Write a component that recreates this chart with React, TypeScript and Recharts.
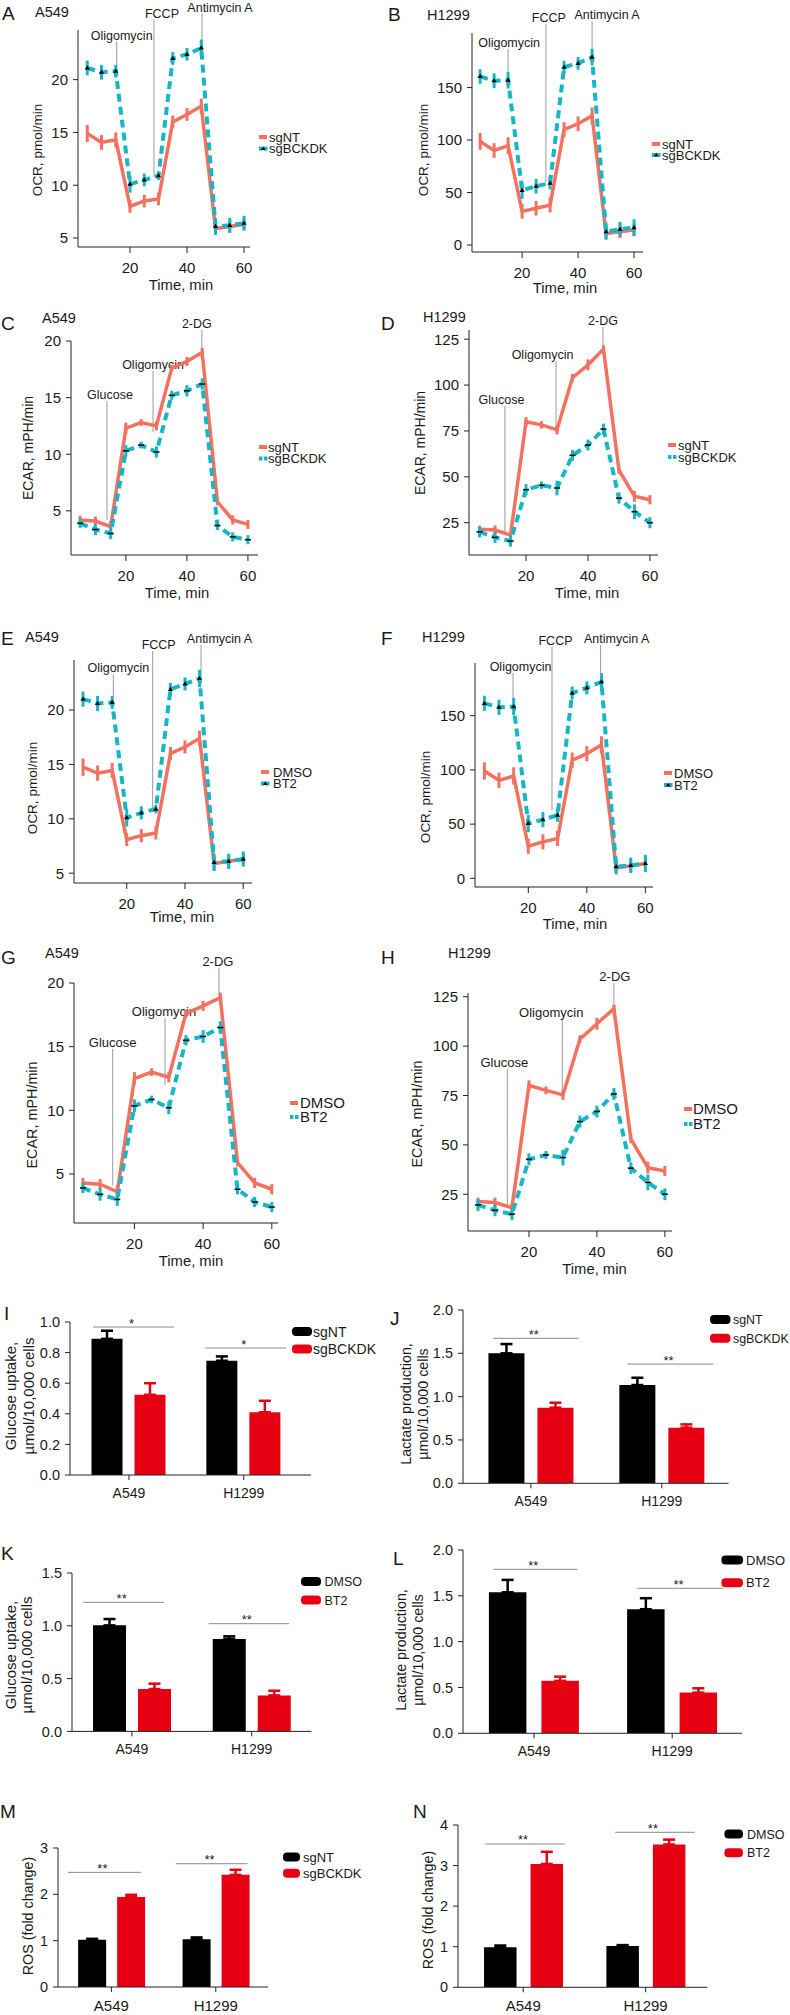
import React from "react";
import { LineChart, Line, BarChart, Bar, XAxis, YAxis, ErrorBar, ReferenceLine } from "recharts";

const FONT = "'Liberation Sans', Arial, Helvetica, sans-serif";
const SALMON = "#F4715F";
const TEAL = "#17B6C6";
const BAR_RED = "#E60012";
const AXIS = "#222";
const INK = "#1a1a1a";

// Seahorse read-out times (min)
const timePoints = [5, 10, 15, 20, 25, 30, 35, 40, 45, 50, 55, 60];
const traceTicks = [20, 40, 60];

// A: OCR A549, sgNT vs sgBCKDK
const ocrA549Ctrl = [14.9, 14.05, 14.3, 8.0, 8.5, 8.7, 16.0, 16.7, 17.5, 5.9, 6.1, 6.3];
const ocrA549CtrlErr = [0.8, 0.7, 0.7, 0.6, 0.6, 0.6, 0.6, 0.6, 0.7, 0.6, 0.6, 0.5];
const ocrA549Kd = [21.1, 20.7, 20.8, 10.1, 10.5, 10.9, 22.0, 22.4, 23.0, 6.1, 6.2, 6.4];
const ocrA549KdErr = [0.7, 0.7, 0.6, 0.8, 0.6, 0.4, 0.6, 0.6, 0.8, 0.8, 0.7, 0.7];

// B: OCR H1299
const ocrH1299Ctrl = [98.7, 90, 94.6, 32, 35, 38, 110, 115.5, 123, 11, 12.7, 14.3];
const ocrH1299CtrlErr = [8, 7, 8, 7, 7, 7, 7, 7, 8, 6, 6, 6];
const ocrH1299Kd = [160.6, 156.5, 157, 52, 56, 59, 169.5, 173, 179, 12.7, 15, 16.5];
const ocrH1299KdErr = [7, 7, 8, 8, 7, 6, 6, 6, 8, 7, 7, 8];

// C: ECAR A549
const ecarA549Ctrl = [4.17, 4.1, 3.6, 12.3, 12.8, 12.5, 17.6, 18.2, 19.0, 5.8, 4.2, 3.8];
const ecarA549CtrlErr = [0.4, 0.4, 0.5, 0.5, 0.3, 0.4, 0.3, 0.4, 0.4, 0.3, 0.4, 0.4];
const ecarA549Kd = [3.9, 3.35, 3.0, 10.3, 10.8, 10.2, 15.2, 15.6, 16.2, 3.7, 2.7, 2.45];
const ecarA549KdErr = [0.4, 0.5, 0.5, 0.5, 0.3, 0.5, 0.4, 0.5, 0.5, 0.4, 0.4, 0.4];

// D: ECAR H1299
const ecarH1299Ctrl = [21.4, 21, 18.3, 80, 78.3, 75.6, 104, 111, 119.6, 53.6, 39.4, 37.5];
const ecarH1299CtrlErr = [2, 2.5, 2, 2.5, 2, 2.5, 2, 3, 2, 2, 3, 2.5];
const ecarH1299Kd = [20, 17, 15, 43, 45.4, 43.9, 61.7, 67.3, 76, 38.4, 31, 25];
const ecarH1299KdErr = [3, 3, 3, 3, 2, 4, 3, 3, 3, 3, 4, 3];

// E: OCR A549, DMSO vs BT2
const ocrA549Dmso = [14.75, 14.2, 14.45, 8.1, 8.45, 8.7, 16.0, 16.6, 17.4, 5.9, 6.1, 6.3];
const ocrA549DmsoErr = [0.8, 0.7, 0.7, 0.6, 0.6, 0.6, 0.6, 0.6, 0.7, 0.6, 0.6, 0.5];
const ocrA549Bt2 = [21.0, 20.6, 20.7, 10.1, 10.55, 10.9, 21.9, 22.4, 22.9, 6.0, 6.1, 6.3];
const ocrA549Bt2Err = [0.7, 0.7, 0.6, 0.8, 0.6, 0.4, 0.6, 0.6, 0.8, 0.8, 0.7, 0.7];

// F: OCR H1299
const ocrH1299Dmso = [99, 90.4, 94.4, 29.6, 33.6, 36.7, 109, 115, 123, 9.8, 11.3, 13.7];
const ocrH1299DmsoErr = [8, 7, 8, 7, 7, 7, 7, 7, 8, 6, 6, 6];
const ocrH1299Bt2 = [161.4, 157.8, 158.4, 50.6, 54.2, 58.2, 170.9, 175.6, 181.2, 10.8, 12, 13.7];
const ocrH1299Bt2Err = [7, 7, 8, 8, 7, 6, 6, 6, 8, 7, 7, 8];

// G: ECAR A549
const ecarA549Dmso = [4.3, 4.2, 3.6, 12.5, 13.0, 12.6, 17.6, 18.2, 18.85, 5.9, 4.3, 3.8];
const ecarA549DmsoErr = [0.4, 0.4, 0.5, 0.5, 0.3, 0.4, 0.3, 0.4, 0.4, 0.3, 0.4, 0.4];
const ecarA549Bt2 = [3.9, 3.4, 3.0, 10.35, 10.85, 10.2, 15.5, 15.8, 16.5, 3.8, 2.8, 2.4];
const ecarA549Bt2Err = [0.4, 0.5, 0.5, 0.5, 0.3, 0.5, 0.4, 0.5, 0.5, 0.4, 0.4, 0.4];

// H: ECAR H1299
const ecarH1299Dmso = [21.3, 20.8, 18.2, 80.2, 77.6, 75.3, 103.5, 111.3, 119, 52.9, 38.5, 36.8];
const ecarH1299DmsoErr = [2, 2.5, 2, 2.5, 2, 2.5, 2, 3, 2, 2, 3, 2.5];
const ecarH1299Bt2 = [19.6, 16.9, 14.9, 42.7, 44.9, 43.6, 61.8, 66.9, 75.8, 38.2, 31, 25];
const ecarH1299Bt2Err = [3, 3, 3, 3, 2, 4, 3, 3, 3, 3, 4, 3];

// bar panels
const cellLines = ["A549", "H1299"];
const glucoseSgNT = [0.89, 0.747];
const glucoseSgNTErr = [0.053, 0.028];
const glucoseSgBCKDK = [0.524, 0.41];
const glucoseSgBCKDKErr = [0.076, 0.075];
const lactateSgNT = [1.5, 1.134];
const lactateSgNTErr = [0.107, 0.084];
const lactateSgBCKDK = [0.873, 0.642];
const lactateSgBCKDKErr = [0.057, 0.038];
const glucoseDmso = [1.004, 0.875];
const glucoseDmsoErr = [0.06, 0.025];
const glucoseBt2 = [0.401, 0.341];
const glucoseBt2Err = [0.051, 0.044];
const lactateDmso = [1.539, 1.354];
const lactateDmsoErr = [0.135, 0.12];
const lactateBt2 = [0.572, 0.444];
const lactateBt2Err = [0.046, 0.047];
const rosSgNT = [1.02, 1.03];
const rosSgNTErr = [0.02, 0.04];
const rosSgBCKDK = [1.94, 2.42];
const rosSgBCKDKErr = [0.05, 0.11];
const rosDmso = [0.985, 1.02];
const rosDmsoErr = [0.045, 0.02];
const rosBt2 = [3.04, 3.52];
const rosBt2Err = [0.3, 0.12];

const KD = ["sgNT", "sgBCKDK"];
const DRUG = ["DMSO", "BT2"];
const OCR = "OCR, pmol/min";
const ECAR = "ECAR, mPH/min";

const tracePanels = [
  {
    letter: "A", letterAt: [2, 20], cell: "A549", cellAt: [35, 17],
    plot: [78, 30, 250, 247], xDomain: [1.75, 62.1], yDomain: [4.15, 24.7], yTicks: [5, 10, 15, 20],
    a: ocrA549Ctrl, ae: ocrA549CtrlErr, b: ocrA549Kd, be: ocrA549KdErr, names: KD, marker: "tri",
    yTitle: OCR, yTitleAt: [37, 150], yTitleSize: 13.5, xTitleAt: [181, 290], legendAt: [259, 137, 11.6, 269], legendSize: 13,
    notes: [
      { text: "Oligomycin", x: 15.33, lo: 20.7, hi: 23.61, dx: 5 },
      { text: "FCCP", x: 28.4, lo: 10.78, hi: 25.69, dx: 8 },
      { text: "Antimycin A", x: 45.26, lo: 23.0, hi: 26.26, dx: 18 },
    ],
  },
  {
    letter: "B", letterAt: [388, 21], cell: "H1299", cellAt: [427, 20],
    plot: [472, 33, 643, 252], xDomain: [2.1, 63.2], yDomain: [-6.7, 202], yTicks: [0, 50, 100, 150],
    a: ocrH1299Ctrl, ae: ocrH1299CtrlErr, b: ocrH1299Kd, be: ocrH1299KdErr, names: KD, marker: "tri",
    yTitle: OCR, yTitleAt: [423, 150], yTitleSize: 13.5, xTitleAt: [565, 293], legendAt: [652, 144, 11, 662], legendSize: 13,
    notes: [
      { text: "Oligomycin", x: 15, lo: 157.2, hi: 186.8, dx: 1 },
      { text: "FCCP", x: 28.5, lo: 60, hi: 210.6, dx: 3 },
      { text: "Antimycin A", x: 45, lo: 181, hi: 213, dx: 15 },
    ],
  },
  {
    letter: "C", letterAt: [1, 330], cell: "A549", cellAt: [42, 323],
    plot: [71, 341, 258, 555], xDomain: [2, 63.3], yDomain: [1.1, 20], yTicks: [5, 10, 15, 20],
    a: ecarA549Ctrl, ae: ecarA549CtrlErr, b: ecarA549Kd, be: ecarA549KdErr, names: KD, marker: "dash",
    yTitle: ECAR, yTitleAt: [28, 448], yTitleSize: 14, xTitleAt: [177, 598], legendAt: [259, 447, 11.5, 268], legendSize: 13,
    notes: [
      { text: "Glucose", x: 13.8, lo: 4.19, hi: 14.7, dx: 3 },
      { text: "Oligomycin", x: 28.9, lo: 11.96, hi: 17.35, dx: 0 },
      { text: "2-DG", x: 44.9, lo: 19.03, hi: 20.97, dx: -5 },
    ],
  },
  {
    letter: "D", letterAt: [381, 330], cell: "H1299", cellAt: [423, 322],
    plot: [469, 330, 658, 555], xDomain: [1.6, 62.6], yDomain: [7.4, 130], yTicks: [25, 50, 75, 100, 125],
    a: ecarH1299Ctrl, ae: ecarH1299CtrlErr, b: ecarH1299Kd, be: ecarH1299KdErr, names: KD, marker: "dash",
    yTitle: ECAR, yTitleAt: [420, 443], yTitleSize: 14, xTitleAt: [587, 598], legendAt: [668, 445, 12, 678], legendSize: 13,
    notes: [
      { text: "Glucose", x: 13.2, lo: 19.4, hi: 88.6, dx: -3.5 },
      { text: "Oligomycin", x: 29.7, lo: 74.4, hi: 113.1, dx: -13.5 },
      { text: "2-DG", x: 44.85, lo: 120.2, hi: 131.6, dx: 0 },
    ],
  },
  {
    letter: "E", letterAt: [1, 645], cell: "A549", cellAt: [25, 642],
    plot: [74, 660, 252, 883], xDomain: [1.9, 63], yDomain: [4.1, 24.6], yTicks: [5, 10, 15, 20],
    a: ocrA549Dmso, ae: ocrA549DmsoErr, b: ocrA549Bt2, be: ocrA549Bt2Err, names: DRUG, marker: "tri",
    yTitle: OCR, yTitleAt: [32, 788], yTitleSize: 13.5, xTitleAt: [182, 922], legendAt: [261, 772, 11.5, 273], legendSize: 13,
    notes: [
      { text: "Oligomycin", x: 15.4, lo: 21.2, hi: 23.3, dx: 5 },
      { text: "FCCP", x: 28.9, lo: 10.63, hi: 25.43, dx: 6 },
      { text: "Antimycin A", x: 45.5, lo: 23.04, hi: 25.98, dx: 18.5 },
    ],
  },
  {
    letter: "F", letterAt: [381, 645], cell: "H1299", cellAt: [422, 642],
    plot: [475, 663, 653, 887], xDomain: [1.8, 62.6], yDomain: [-8, 198.6], yTicks: [0, 50, 100, 150],
    a: ocrH1299Dmso, ae: ocrH1299DmsoErr, b: ocrH1299Bt2, be: ocrH1299Bt2Err, names: DRUG, marker: "tri",
    yTitle: OCR, yTitleAt: [425, 797], yTitleSize: 13.5, xTitleAt: [575, 929], legendAt: [664, 773, 12, 674], legendSize: 13,
    notes: [
      { text: "Oligomycin", x: 14.8, lo: 164.5, hi: 189.4, dx: 7.5 },
      { text: "FCCP", x: 28.1, lo: 63, hi: 213.4, dx: 3.5 },
      { text: "Antimycin A", x: 44.7, lo: 184.8, hi: 215.2, dx: 16 },
    ],
  },
  {
    letter: "G", letterAt: [1, 964], cell: "A549", cellAt: [45, 958],
    plot: [74, 983, 278, 1223], xDomain: [2.4, 61.8], yDomain: [1.15, 20], yTicks: [5, 10, 15, 20],
    a: ecarA549Dmso, ae: ecarA549DmsoErr, b: ecarA549Bt2, be: ecarA549Bt2Err, names: DRUG, marker: "dash",
    yTitle: ECAR, yTitleAt: [32, 1115], yTitleSize: 14.4, xTitleAt: [191, 1266], legendAt: [290, 1103, 14, 300], legendSize: 15,
    notes: [
      { text: "Glucose", x: 13.67, lo: 4.13, hi: 14.82, dx: 0 },
      { text: "Oligomycin", x: 28.9, lo: 11.99, hi: 17.25, dx: -1 },
      { text: "2-DG", x: 44.6, lo: 19.06, hi: 21.18, dx: -1 },
    ],
  },
  {
    letter: "H", letterAt: [381, 964], cell: "H1299", cellAt: [448, 958],
    plot: [468, 993, 672, 1231], xDomain: [2.06, 62.1], yDomain: [6.4, 126.9], yTicks: [25, 50, 75, 100, 125],
    a: ecarH1299Dmso, ae: ecarH1299DmsoErr, b: ecarH1299Bt2, be: ecarH1299Bt2Err, names: DRUG, marker: "dash",
    yTitle: ECAR, yTitleAt: [417, 1114], yTitleSize: 14.4, xTitleAt: [594.5, 1274], legendAt: [684, 1109, 15, 693], legendSize: 15,
    notes: [
      { text: "Glucose", x: 13.63, lo: 18.05, hi: 88.4, dx: -3 },
      { text: "Oligomycin", x: 29.8, lo: 77.8, hi: 113.7, dx: -11 },
      { text: "2-DG", x: 45.0, lo: 120.8, hi: 131.96, dx: 1 },
    ],
  },
];

const one = (v) => v.toFixed(1);
const whole = (v) => String(v);

// significance brackets: from/to in category-slot units (A549 slot 0..1, H1299 slot 1..2)
const barPanels = [
  {
    letter: "I", letterAt: [4, 1320], plot: [70, 1322, 311, 1475], yMax: 1, yTicks: [0, 0.2, 0.4, 0.6, 0.8, 1], fmt: one,
    pad: { left: 1.5, right: 9.8 }, barSize: 31, gap: 12, catSize: 14,
    a: glucoseSgNT, ae: glucoseSgNTErr, b: glucoseSgBCKDK, be: glucoseSgBCKDKErr, names: KD,
    yTitle: ["Glucose uptake,", "µmol/10,000 cells"], yTitleX: [10, 28], yTitleY: 1396, yTitleSize: 15,
    legend: [292, 20, [1331.5, 1349], 313, 14],
    sig: [{ from: 0.187, to: 0.892, y: 0.967, txt: "*" }, { from: 1.167, to: 1.868, y: 0.83, txt: "*" }],
  },
  {
    letter: "J", letterAt: [390, 1325], plot: [462.5, 1310, 728, 1483.3], yMax: 2, yTicks: [0, 0.5, 1, 1.5, 2], fmt: one,
    pad: { left: 2.45, right: 1.25 }, barSize: 36, gap: 13, catSize: 14,
    a: lactateSgNT, ae: lactateSgNTErr, b: lactateSgBCKDK, be: lactateSgBCKDKErr, names: KD,
    yTitle: ["Lactate production,", "µmol/10,000 cells"], yTitleX: [405.5, 423], yTitleY: 1404, yTitleSize: 14.3,
    legend: [710, 20.5, [1319.5, 1338.3], 733, 12.4],
    sig: [{ from: 0.212, to: 0.864, y: 1.673, txt: "**" }, { from: 1.238, to: 1.895, y: 1.376, txt: "**" }],
  },
  {
    letter: "K", letterAt: [1, 1560], plot: [71.5, 1573.3, 311, 1731.7], yMax: 1.5, yTicks: [0, 0.5, 1, 1.5], fmt: one,
    pad: { left: 0, right: 0 }, barSize: 33, gap: 12, catSize: 14,
    a: glucoseDmso, ae: glucoseDmsoErr, b: glucoseBt2, be: glucoseBt2Err, names: DRUG,
    yTitle: ["Glucose uptake,", "µmol/10,000 cells"], yTitleX: [10, 26], yTitleY: 1655, yTitleSize: 15,
    legend: [301, 20, [1581.5, 1600], 324.5, 12.5],
    sig: [{ from: 0.095, to: 0.768, y: 1.222, txt: "**" }, { from: 1.141, to: 1.813, y: 1.02, txt: "**" }],
  },
  {
    letter: "L", letterAt: [393, 1565], plot: [462.5, 1550, 741.5, 1733.3], yMax: 2, yTicks: [0, 0.5, 1, 1.5, 2], fmt: one,
    pad: { left: 1.9, right: 0.7 }, barSize: 37.5, gap: 15, catSize: 14,
    a: lactateDmso, ae: lactateDmsoErr, b: lactateBt2, be: lactateBt2Err, names: DRUG,
    yTitle: ["Lactate production,", "µmol/10,000 cells"], yTitleX: [400.5, 418], yTitleY: 1650, yTitleSize: 14.3,
    legend: [721.4, 21.6, [1560, 1582.7], 746, 13],
    sig: [{ from: 0.205, to: 0.815, y: 1.789, txt: "**" }, { from: 1.249, to: 1.871, y: 1.582, txt: "**" }],
  },
  {
    letter: "M", letterAt: [0, 1818], plot: [58, 1848.3, 268, 1987.3], yMax: 3, yTicks: [0, 1, 2, 3], fmt: whole,
    pad: { left: 1.15, right: 0 }, barSize: 28, gap: 11, catSize: 15,
    a: rosSgNT, ae: rosSgNTErr, b: rosSgBCKDK, be: rosSgBCKDKErr, names: KD,
    yTitle: ["ROS (fold change)"], yTitleX: [27.7], yTitleY: 1916, yTitleSize: 14.3,
    legend: [283, 17, [1857, 1873.3], 303, 13],
    sig: [{ from: 0.085, to: 0.782, y: 2.474, txt: "**" }, { from: 1.116, to: 1.804, y: 2.661, txt: "**" }],
  },
  {
    letter: "N", letterAt: [413, 1818], plot: [458.4, 1825, 707.8, 1987.3], yMax: 4, yTicks: [0, 1, 2, 3, 4], fmt: whole,
    pad: { left: 4.05, right: 0.65 }, barSize: 32.5, gap: 14, catSize: 15,
    a: rosDmso, ae: rosDmsoErr, b: rosBt2, be: rosBt2Err, names: DRUG,
    yTitle: ["ROS (fold change)"], yTitleX: [428], yTitleY: 1910, yTitleSize: 14.3,
    legend: [724.4, 18.6, [1834, 1852.7], 747, 12.5],
    sig: [{ from: 0.192, to: 0.838, y: 3.532, txt: "**" }, { from: 1.252, to: 1.901, y: 3.82, txt: "**" }],
  },
];

function NoteLabel(props) {
  const vb = props.viewBox || { x: 0, y: 0 };
  return (
    <text x={vb.x + props.shift} y={vb.y - 2} textAnchor="middle" fontSize={props.size} fill={INK} fontFamily={FONT}>
      {props.txt}
    </text>
  );
}

function SigLabel(props) {
  const vb = props.viewBox || { x: 0, y: 0, width: 0 };
  return (
    <text x={vb.x + vb.width / 2 - 2} y={vb.y + 0.5} textAnchor="middle" fontSize={13} fill={INK} fontFamily={FONT}>
      {props.txt}
    </text>
  );
}

function pointMarker(kind) {
  return (props) => {
    const { cx, cy, index } = props;
    if (cx == null || cy == null) return <g key={`m${index}`} />;
    if (kind === "tri")
      return <path key={`m${index}`} d={`M${cx},${cy - 2.6}L${cx + 2.6},${cy + 1.6}L${cx - 2.6},${cy + 1.6}Z`} fill="#000" />;
    return <rect key={`m${index}`} x={cx - 3} y={cy - 0.8} width={6} height={1.6} fill="#111" />;
  };
}

function TracePanel({ p }) {
  const YW = 60, MT = 40, MR = 12, XH = 40;
  const [x0, y0, x1, y1] = p.plot;
  const data = timePoints.map((t, i) => ({ t, a: p.a[i], ae: p.ae[i], b: p.b[i], be: p.be[i] }));
  const tick = { fontSize: 15, fill: INK, fontFamily: FONT };
  const noteSize = p.legendSize > 13 ? 13 : 12.5;
  return (
    <div style={{ position: "absolute", left: x0 - YW, top: y0 - MT }}>
      <LineChart width={x1 - x0 + YW + MR} height={y1 - y0 + MT + XH} data={data} margin={{ top: MT, right: MR, bottom: 0, left: 0 }}>
        <XAxis dataKey="t" type="number" domain={p.xDomain} ticks={traceTicks} allowDataOverflow height={XH}
          tickSize={6} tickMargin={9} tick={tick} axisLine={{ stroke: AXIS }} tickLine={{ stroke: AXIS }} />
        <YAxis type="number" domain={p.yDomain} ticks={p.yTicks} allowDataOverflow width={YW}
          tickSize={5} tickMargin={5} tick={tick} axisLine={{ stroke: AXIS }} tickLine={{ stroke: AXIS }} />
        {p.notes.map((n) => (
          <ReferenceLine key={n.text} segment={[{ x: n.x, y: n.lo }, { x: n.x, y: n.hi }]} stroke="#9a9a9a" strokeWidth={1}
            ifOverflow="visible" label={<NoteLabel txt={n.text} shift={n.dx} size={noteSize} />} />
        ))}
        <Line dataKey="a" stroke={SALMON} strokeWidth={3.5} dot={false} isAnimationActive={false}>
          <ErrorBar dataKey="ae" width={0} strokeWidth={3} stroke={SALMON} direction="y" />
        </Line>
        <Line dataKey="b" stroke={TEAL} strokeWidth={4} strokeDasharray="8 5" dot={pointMarker(p.marker)} activeDot={false} isAnimationActive={false}>
          <ErrorBar dataKey="be" width={0} strokeWidth={3} stroke={TEAL} direction="y" />
        </Line>
      </LineChart>
    </div>
  );
}

function BarPanel({ p }) {
  const YW = 50, MT = 40, MR = 10, XH = 40;
  const [x0, y0, x1, y1] = p.plot;
  const data = cellLines.map((c, i) => ({ cat: c, a: p.a[i], ae: [0, p.ae[i]], b: p.b[i], be: [0, p.be[i]] }));
  const tick = { fontSize: 14.5, fill: INK, fontFamily: FONT };
  return (
    <div style={{ position: "absolute", left: x0 - YW, top: y0 - MT }}>
      <BarChart width={x1 - x0 + YW + MR} height={y1 - y0 + MT + XH} data={data} margin={{ top: MT, right: MR, bottom: 0, left: 0 }}
        barGap={p.gap} barSize={p.barSize}>
        <XAxis dataKey="cat" padding={p.pad} height={XH} tickSize={5} tickMargin={8}
          tick={{ ...tick, fontSize: p.catSize }} axisLine={{ stroke: AXIS }} tickLine={{ stroke: AXIS }} />
        {/* hidden linear axis over the same range, used to place the significance brackets */}
        <XAxis xAxisId="pos" type="number" domain={[0, 1]} allowDataOverflow hide padding={p.pad} />
        <YAxis type="number" domain={[0, p.yMax]} ticks={p.yTicks} allowDataOverflow width={YW} tickFormatter={p.fmt}
          tickSize={5} tickMargin={5} tick={tick} axisLine={{ stroke: AXIS }} tickLine={{ stroke: AXIS }} />
        <Bar dataKey="a" fill="#000" isAnimationActive={false}>
          <ErrorBar dataKey="ae" width={6} strokeWidth={2.5} stroke="#000" direction="y" />
        </Bar>
        <Bar dataKey="b" fill={BAR_RED} isAnimationActive={false}>
          <ErrorBar dataKey="be" width={6} strokeWidth={2.5} stroke={BAR_RED} direction="y" />
        </Bar>
        {p.sig.map((s, i) => (
          <ReferenceLine key={i} xAxisId="pos" segment={[{ x: s.from / 2, y: s.y }, { x: s.to / 2, y: s.y }]} stroke="#8a8a8a" strokeWidth={1}
            ifOverflow="visible" label={<SigLabel txt={s.txt} />} />
        ))}
      </BarChart>
    </div>
  );
}

function TraceText({ p }) {
  const [lx, ly, gap, tx] = p.legendAt;
  const s = p.legendSize;
  return (
    <g fill={INK}>
      <text x={p.letterAt[0]} y={p.letterAt[1]} fontSize={19}>{p.letter}</text>
      <text x={p.cellAt[0]} y={p.cellAt[1]} fontSize={14.5}>{p.cell}</text>
      <text transform={`translate(${p.yTitleAt[0]},${p.yTitleAt[1]}) rotate(-90)`} textAnchor="middle" dominantBaseline="central" fontSize={p.yTitleSize}>
        {p.yTitle}
      </text>
      <text x={p.xTitleAt[0]} y={p.xTitleAt[1]} textAnchor="middle" fontSize={14.8}>Time, min</text>
      <rect x={lx} y={ly - 2} width={8} height={4} fill={SALMON} />
      <text x={tx} y={ly + s * 0.36} fontSize={s}>{p.names[0]}</text>
      <rect x={lx} y={ly + gap - 2} width={3.5} height={4} fill={TEAL} />
      <rect x={lx + 5} y={ly + gap - 2} width={3.5} height={4} fill={TEAL} />
      {p.marker === "tri" ? (
        <path d={`M${lx + 4.2},${ly + gap - 2.4}L${lx + 6.4},${ly + gap + 1.4}L${lx + 2},${ly + gap + 1.4}Z`} fill="#000" />
      ) : null}
      <text x={tx} y={ly + gap + s * 0.36} fontSize={s}>{p.names[1]}</text>
    </g>
  );
}

function BarText({ p }) {
  const [sx, sw, rows, tx, s] = p.legend;
  return (
    <g fill={INK}>
      <text x={p.letterAt[0]} y={p.letterAt[1]} fontSize={19}>{p.letter}</text>
      {p.yTitle.map((line, i) => (
        <text key={line} transform={`translate(${p.yTitleX[i]},${p.yTitleY}) rotate(-90)`} textAnchor="middle" dominantBaseline="central" fontSize={p.yTitleSize}>
          {line}
        </text>
      ))}
      {p.names.map((n, i) => (
        <g key={n}>
          <rect x={sx} y={rows[i] - 4.5} width={sw} height={9} rx={4} fill={i === 0 ? "#000" : BAR_RED} />
          <text x={tx} y={rows[i] + s * 0.36} fontSize={s}>{n}</text>
        </g>
      ))}
    </g>
  );
}

export default function App() {
  return (
    <div style={{ position: "absolute", left: 0, top: 0, width: 790, height: 2015, background: "#fff", fontFamily: FONT, overflow: "hidden" }}>
      {tracePanels.map((p) => <TracePanel key={p.letter} p={p} />)}
      {barPanels.map((p) => <BarPanel key={p.letter} p={p} />)}
      <svg width={790} height={2015} style={{ position: "absolute", left: 0, top: 0, pointerEvents: "none" }} fontFamily={FONT}>
        {tracePanels.map((p) => <TraceText key={p.letter} p={p} />)}
        {barPanels.map((p) => <BarText key={p.letter} p={p} />)}
      </svg>
    </div>
  );
}
